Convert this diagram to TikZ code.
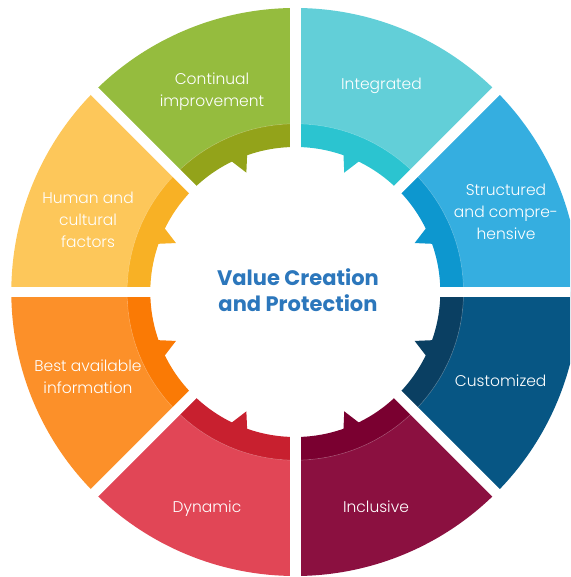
\documentclass[tikz,border=0pt]{standalone}
\usepackage{fontspec}
\IfFontExistsTF{Poppins Light}{\newfontfamily\labfont{Poppins Light}}{\newfontfamily\labfont{Poppins}}
\newfontfamily\titlefont{Poppins}
\definecolor{intO}{HTML}{62CFD8}\definecolor{intI}{HTML}{2BC4D0}
\definecolor{strO}{HTML}{35AEE0}\definecolor{strI}{HTML}{0D97CF}
\definecolor{cusO}{HTML}{075684}\definecolor{cusI}{HTML}{0A3F62}
\definecolor{incO}{HTML}{8B1040}\definecolor{incI}{HTML}{7A0030}
\definecolor{dynO}{HTML}{E14656}\definecolor{dynI}{HTML}{C8202F}
\definecolor{besO}{HTML}{FC9029}\definecolor{besI}{HTML}{FA7A05}
\definecolor{humO}{HTML}{FDC75A}\definecolor{humI}{HTML}{F8B125}
\definecolor{conO}{HTML}{95BC3E}\definecolor{conI}{HTML}{93A31A}
\definecolor{titleblue}{HTML}{2C77BC}
\tikzset{
  lab/.style={text=white, align=center, font=\labfont\fontsize{15.5}{22}\selectfont, inner sep=0pt},
  ttl/.style={text=titleblue, align=center, font=\titlefont\bfseries\fontsize{21}{26}\selectfont, inner sep=0pt}
}
\begin{document}
\begin{tikzpicture}[x=1pt,y=1pt]
\useasboundingbox (0,0) rectangle (570,577);
\clip (0,0) rectangle (570,577);
\begin{scope}[shift={(295.3,285)}]
\foreach \a/\co/\ci/\s in {0/strO/strI/-1, 45/intO/intI/1, 90/conO/conI/-1, 135/humO/humI/1, 180/besO/besI/-1, 225/dynO/dynI/1, 270/incO/incI/-1, 315/cusO/cusI/1} {
  \pgfmathsetmacro\b{\a+45}
  \pgfmathsetmacro\ta{\a+22.5+3.4*(\s)}
  \pgfmathsetmacro\tb{\a+22.5+0.2*(\s)}
  \pgfmathsetmacro\tc{\a+22.5-3.8*(\s)}
  \fill[\co] (\a:168) arc[start angle=\a, end angle=\b, radius=168] -- (\b:284) arc[start angle=\b, end angle=\a, radius=284] -- cycle;
  \fill[\ci] (\a:145) arc[start angle=\a, end angle=\b, radius=145] -- (\b:168.3) arc[start angle=\b, end angle=\a, radius=168.3] -- cycle;
  \fill[\ci] (\ta:147) -- (\tb:129) -- (\tc:147) -- cycle;
}
\draw[white, opacity=0.3, line width=0.5pt] (0,0) circle[radius=168.2];
\foreach \a in {0,45,90,135} {
  \pgfmathsetmacro\b{\a+180}
  \draw[white, line width=10.5pt] (\b:300) -- (\a:300);
}
\end{scope}
\node[lab] (integrated) at (381.5,491.5) {Integrated};
\node[lab] (structured) at (506,365) {Structured\\and compre-\\hensive};
\node[lab] (customized) at (500.7,196) {Customized};
\node[lab] (inclusive) at (376,70.5) {Inclusive};
\node[lab] (dynamic) at (207,68.5) {Dynamic};
\node[lab] (best) at (88,200) {Best available\\information};
\node[lab] (human) at (88,357) {Human and\\cultural\\factors};
\node[lab] (continual) at (212,485.5) {Continual\\improvement};
\node[ttl] (title) at (298,287) {Value Creation\\and Protection};
\end{tikzpicture}
\end{document}
